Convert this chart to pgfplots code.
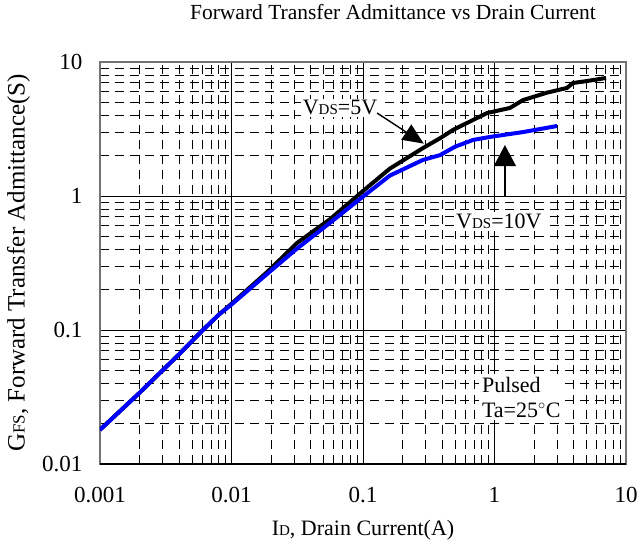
\documentclass[border=0pt]{standalone}
\usepackage{fontspec}
\setmainfont{Liberation Serif}
\usepackage{pgfplots}
\pgfplotsset{compat=1.18}
\usetikzlibrary{arrows.meta}
\newcommand{\sub}[1]{{\fontsize{15bp}{15bp}\selectfont #1}}
\newcommand{\subb}[1]{{\fontsize{17bp}{17bp}\selectfont #1}}
\begin{document}
\begin{tikzpicture}
\begin{axis}[
  at={(0,0)}, anchor=south west,
  scale only axis, width=526bp, height=402bp,
  xmode=log, ymode=log,
  xmin=0.001, xmax=10, ymin=0.01, ymax=10,
  xtick={0.001,0.01,0.1,1,10}, xticklabels={0.001,0.01,0.1,1,10},
  ytick={0.01,0.1,1,10}, yticklabels={0.01,0.1,1,10},
  /pgf/number format/assume math mode=true,
  tick style={draw=none},
  major tick length=0pt, minor tick length=0pt,
  xticklabel style={font=\fontsize{23bp}{23bp}\selectfont, yshift=-20bp},
  yticklabel style={font=\fontsize{23bp}{23bp}\selectfont, xshift=-14bp},
  grid=both,
  major grid style={black, line width=0.8bp, solid},
  minor grid style={black, line width=0.8bp, dash pattern=on 9bp off 6bp},
  axis line style={black!55, line width=1.6bp},
  xlabel={I\sub{D}, Drain Current(A)},
  ylabel={G\subb{FS}, Forward Transfer Admittance(S)},
  xlabel style={font=\fontsize{22bp}{22bp}\selectfont, at={(axis description cs:0.5,-0.164)}, anchor=center},
  ylabel style={font=\fontsize{25bp}{25bp}\selectfont, at={(axis description cs:-0.155,0.5)}, anchor=center, rotate=0},
  title={Forward Transfer Admittance vs Drain Current},
  title style={font=\fontsize{21.5bp}{21.5bp}\selectfont, at={(axis description cs:0.557,1.109)}, anchor=center},
]
\addplot[black, line width=4bp] coordinates {
(0.001,0.018) (0.002,0.034) (0.004,0.066) (0.006,0.099)
(0.008,0.130) (0.01,0.157) (0.019,0.275) (0.0315,0.446) (0.056,0.67)
(0.1,1.09) (0.16,1.60) (0.286,2.28) (0.386,2.70) (0.483,3.11) (0.877,4.16)
(1.31,4.54) (1.65,5.2) (2.5,5.9) (3.55,6.4) (3.95,6.97) (5.0,7.2) (7.05,7.6)
};
\addplot[blue, line width=4bp] coordinates {
(0.001,0.018) (0.002,0.034) (0.004,0.066) (0.006,0.099)
(0.008,0.130) (0.01,0.155) (0.019,0.266) (0.031,0.40) (0.056,0.63)
(0.1,0.99) (0.16,1.42) (0.286,1.86) (0.386,2.02) (0.5,2.33) (0.687,2.62)
(0.925,2.76) (1.65,3.0) (2.99,3.33)
};
\draw[black, line width=1.6bp] (rel axis cs:0,0) -- (rel axis cs:1,0);
\node[fill=white, inner sep=2bp, font=\fontsize{22bp}{22bp}\selectfont] at (axis cs:0.0669,4.54) {V\sub{DS}=5V};
\node[fill=white, inner sep=2bp, font=\fontsize{22bp}{22bp}\selectfont] at (axis cs:1.08,0.65) {V\sub{DS}=10V};
\node[fill=white, inner sep=3bp, anchor=west, align=left, font=\fontsize{22bp}{25bp}\selectfont] at (axis cs:0.76,0.0316) {Pulsed\\Ta=25$^\circ$C};
\draw[black, line width=1.4bp, -{Triangle[length=21bp,width=18bp]}] (axis cs:0.128,4.16) -- (axis cs:0.29,2.46);
\draw[black, line width=1.4bp, -{Triangle[length=21bp,width=22bp]}] (axis cs:1.2,1.0) -- (axis cs:1.2,2.4);
\end{axis}
\pgfresetboundingbox
\useasboundingbox (-100bp,-83bp) rectangle (540bp,464bp);
\end{tikzpicture}
\end{document}
